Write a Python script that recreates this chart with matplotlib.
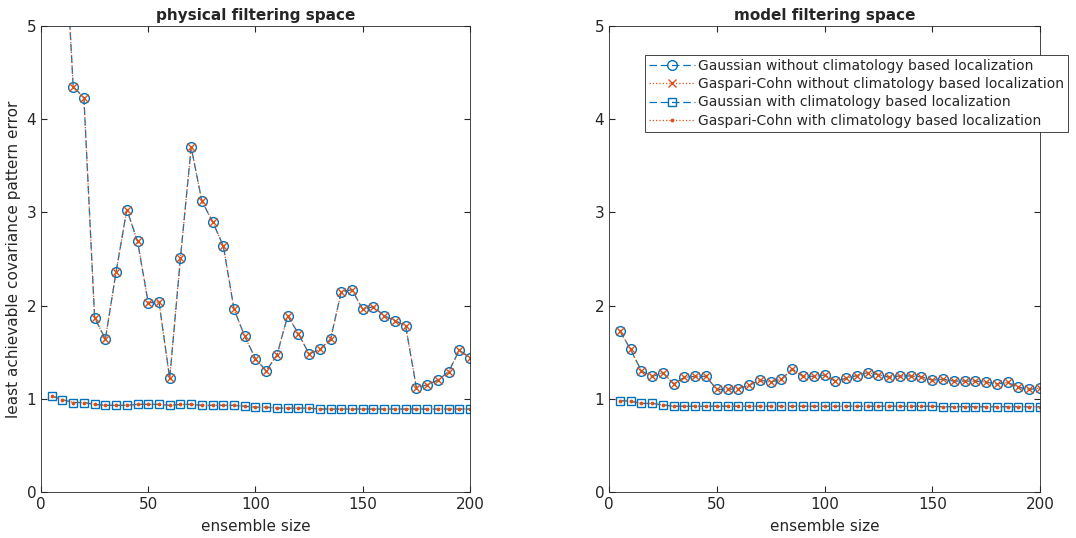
import numpy as np
from matplotlib import pyplot as plt

blue = '#0072BD'
orange = '#D95319'

ens = np.arange(5, 205, 5)

# physical filtering space
phys_gauss = [8.0, 6.5, 4.35, 4.23, 1.87, 1.64, 2.36, 3.03, 2.69, 2.03,
              2.04, 1.22, 2.51, 3.70, 3.12, 2.90, 2.64, 1.96, 1.67, 1.43,
              1.30, 1.47, 1.89, 1.70, 1.48, 1.53, 1.64, 2.15, 2.17, 1.96,
              1.99, 1.89, 1.84, 1.78, 1.12, 1.15, 1.20, 1.29, 1.52, 1.44]
phys_clim = [1.03, 0.99, 0.96, 0.96, 0.94, 0.93, 0.93, 0.93, 0.94, 0.94,
             0.94, 0.93, 0.94, 0.94, 0.93, 0.93, 0.93, 0.93, 0.92, 0.91,
             0.91, 0.90, 0.90, 0.90, 0.90, 0.89, 0.89, 0.89, 0.89, 0.89,
             0.89, 0.89, 0.89, 0.89, 0.89, 0.89, 0.89, 0.89, 0.89, 0.89]

# model filtering space
model_gauss = [1.73, 1.53, 1.30, 1.24, 1.28, 1.16, 1.23, 1.24, 1.24, 1.10,
               1.10, 1.11, 1.145, 1.20, 1.18, 1.21, 1.32, 1.24, 1.24, 1.255,
               1.19, 1.22, 1.25, 1.28, 1.26, 1.23, 1.245, 1.245, 1.235, 1.20,
               1.21, 1.19, 1.19, 1.19, 1.18, 1.16, 1.175, 1.125, 1.10, 1.115]
model_clim = [0.98, 0.975, 0.95, 0.95, 0.935, 0.92, 0.92, 0.92, 0.92, 0.92,
              0.92, 0.92, 0.92, 0.92, 0.92, 0.92, 0.92, 0.92, 0.92, 0.92,
              0.92, 0.92, 0.92, 0.92, 0.92, 0.92, 0.92, 0.92, 0.92, 0.92,
              0.915, 0.915, 0.915, 0.915, 0.915, 0.915, 0.915, 0.915, 0.915, 0.915]

labels = ['Gaussian without climatology based localization',
          'Gaspari-Cohn without climatology based localization',
          'Gaussian with climatology based localization',
          'Gaspari-Cohn with climatology based localization']

plt.rcParams['font.family'] = 'DejaVu Sans'
plt.rcParams['text.color'] = '#262626'

fig = plt.figure(figsize=(10.76, 5.38), dpi=100)
ax1 = fig.add_axes([41/1076, 46/538, 429/1076, 466/538])
ax2 = fig.add_axes([609/1076, 46/538, 431/1076, 466/538])


def draw(ax, gauss, clim, title):
    ax.plot(ens, gauss, '--', color=blue, marker='o', ms=7, mfc='none',
            mew=1.0, lw=0.9, dashes=(6, 3))
    ax.plot(ens, gauss, ':', color=orange, marker='x', ms=5.5, lw=0.9)
    ax.plot(ens, clim, '--', color=blue, marker='s', ms=6, mfc='none',
            mew=1.0, lw=0.9, dashes=(6, 3))
    ax.plot(ens, clim, ':', color=orange, marker='.', ms=3.5, lw=0.9)
    ax.set_xlim(0, 200)
    ax.set_ylim(0, 5)
    ax.set_xticks([0, 50, 100, 150, 200])
    ax.set_yticks([0, 1, 2, 3, 4, 5])
    ax.tick_params(direction='in', top=True, right=True, labelsize=11,
                   colors='#262626', length=4)
    for s in ax.spines.values():
        s.set_color('#262626')
        s.set_linewidth(0.6)
    ax.set_xlabel('ensemble size', fontsize=11, color='#262626', labelpad=5)
    ax.set_title(title, fontsize=11, fontweight='bold', pad=4)


draw(ax1, phys_gauss, phys_clim, 'physical filtering space')
draw(ax2, model_gauss, model_clim, 'model filtering space')
ax1.set_ylabel('least achievable covariance pattern error', fontsize=11,
               color='#262626', labelpad=4)

lines = ax2.get_lines()
leg = ax2.legend(lines, labels, loc='upper left',
                 bbox_to_anchor=(645/1076, 1 - 55/538),
                 bbox_transform=fig.transFigure, fontsize=10,
                 handlelength=3.3, handletextpad=0.2, labelspacing=0.3,
                 borderpad=0.3, fancybox=False, framealpha=1,
                 edgecolor='#262626', borderaxespad=0)
leg.get_frame().set_linewidth(0.6)

fig.savefig('out.png', dpi=100)
